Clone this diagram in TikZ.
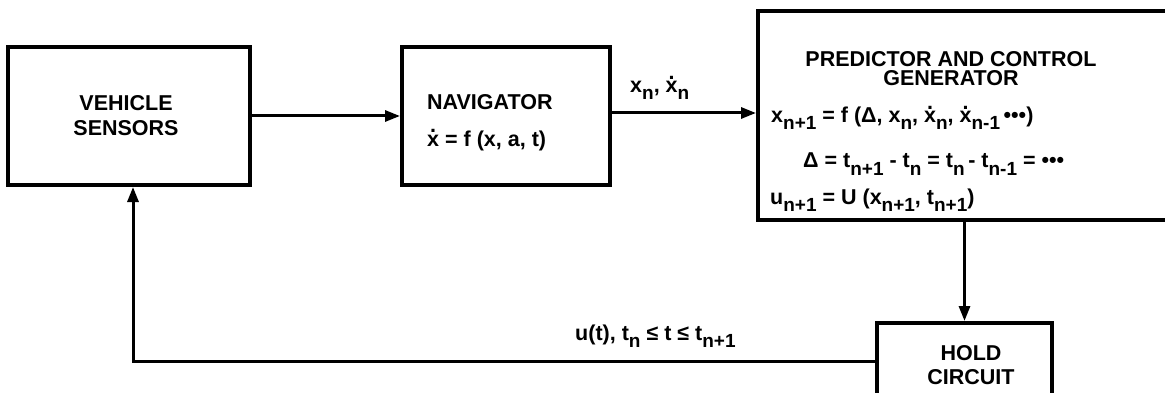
\documentclass[tikz,border=0pt]{standalone}
\usepackage{fontspec}
\setmainfont{Liberation Sans}
\usetikzlibrary{arrows.meta}
\newcommand\lo[1]{\raisebox{-0.65ex}{\fontsize{19}{19}\selectfont #1}}
\newcommand\xdot{\rlap{\hspace{0.14em}\raisebox{0.62em}{.}}x}
\begin{document}
\begin{tikzpicture}[x=1pt,y=-1pt,
  box/.style={draw,line width=4pt,inner sep=0pt},
  conn/.style={line width=3pt,-{Triangle[length=15pt,width=11pt]}},
  lbl/.style={font=\fontsize{21.5}{21.5}\selectfont\bfseries,inner sep=0pt},
  txt/.style={lbl,anchor=west}]
\useasboundingbox (0,0) rectangle (1165,393);
\node[box,minimum width=242pt,minimum height=138pt] (veh) at (129,116) {};
\node[box,minimum width=208pt,minimum height=138pt] (nav) at (506,116) {};
\node[box,minimum width=417pt,minimum height=209pt] (pred) at (966.5,115.5) {};
\node[box,minimum width=175pt,minimum height=77pt] (hold) at (964.5,361.5) {};
\coordinate (fb) at (133,363);
% texts
\node[lbl,align=center,font=\fontsize{21.5}{25}\selectfont\bfseries] (vehT) at (126,116) {VEHICLE\\SENSORS};
\node[txt] (navT) at (427,102) {NAVIGATOR};
\node[txt] (navE) at (427,140) {\xdot\ = f (x, a, t)};
\node[lbl,align=center,font=\fontsize{21.5}{19}\selectfont\bfseries] (predT) at (951,69) {PREDICTOR AND CONTROL\\GENERATOR};
\node[txt] (predE1) at (771,118) {x\lo{n+1} = f (Δ, x\lo{n}, \xdot\lo{n}, \xdot\lo{n-1}\,•••)};
\node[txt] (predE2) at (803,164) {Δ = t\lo{n+1} - t\lo{n} = t\lo{n}\,- t\lo{n-1} = •••};
\node[txt] (predE3) at (770,200) {u\lo{n+1} = U (x\lo{n+1}, t\lo{n+1})};
\node[lbl,align=center,font=\fontsize{21.5}{24}\selectfont\bfseries] (holdT) at (971,365) {HOLD\\CIRCUIT};
\node[txt] (xnl) at (630,88) {x\lo{n}, \xdot\lo{n}};
\node[txt] (ul) at (575,336) {u(t), t\lo{n} ≤ t ≤ t\lo{n+1}};
% connectors
\draw[conn] (veh.east) -- (nav.west);
\draw[conn] (nav.east |- 0,113) -- (pred.west |- 0,113);
\draw[conn] (pred.south -| hold.north) -- (hold.north);
\draw[conn] (hold.west) -| (veh.south -| fb);
\end{tikzpicture}
\end{document}
